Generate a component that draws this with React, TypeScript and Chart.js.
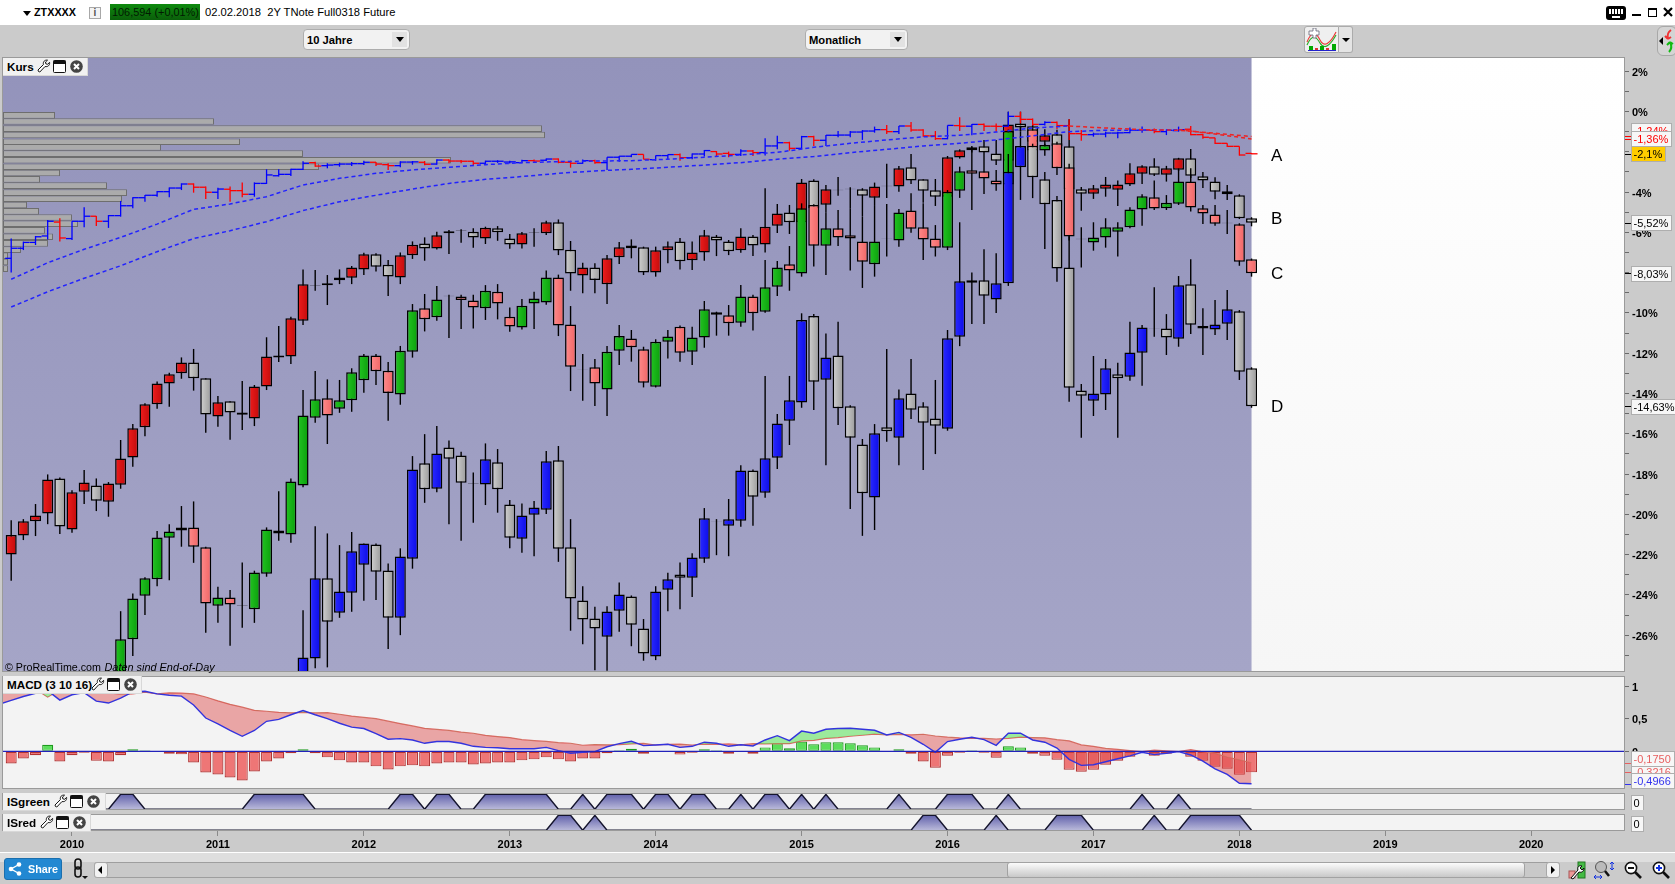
import React, { useEffect, useRef } from 'react';
import Chart from 'chart.js/auto';

// ---------- axis ----------
const monthMin = -0.674;
const monthMax = 132.63;
const yearTickMonths = [5, 17, 29, 41, 53, 65, 77, 89, 101, 113, 125];
const yearLabels = ['2010', '2011', '2012', '2013', '2014', '2015', '2016', '2017', '2018', '2019', '2020'];
const priceTicks = [2, 1, 0, -1, -2, -3, -4, -5, -6, -7, -8, -9, -10, -11, -12, -13, -14, -15, -16, -17, -18, -19, -20, -21, -22, -23, -24, -25, -26, -27];
const macdTicks = [1, 0.5, 0];

// ---------- series A (OHLC bars), first month 0 ----------
const aOpen = [-7.29,-6.79,-6.5,-6.18,-5.49,-6.31,-5.45,-5.2,-5.45,-5.17,-4.68,-4.28,-4.16,-3.98,-3.8,-3.6,-3.76,-4.01,-3.86,-3.93,-4.11,-3.57,-3.19,-3.12,-2.87,-2.54,-2.69,-2.64,-2.61,-2.59,-2.52,-2.64,-2.69,-2.51,-2.52,-2.61,-2.41,-2.46,-2.47,-2.57,-2.47,-2.51,-2.54,-2.44,-2.42,-2.36,-2.52,-2.57,-2.44,
-2.54,-2.27,-2.22,-2.13,-2.39,-2.19,-2.14,-2.29,-2.11,-1.99,-2.08,-2.13,-1.96,-2.04,-1.71,-1.55,-1.83,-1.25,-1.43,-1.18,-1.17,-1.02,-0.97,-0.9,-1,-0.72,-0.92,-1.21,-1.35,-0.7,-0.73,-0.64,-0.73,-0.73,-0.24,-0.39,-0.64,-0.54,-0.7,-1.1,-1.15,-1.12,-1.07,-1.05,-0.93,-0.93,-1,-0.95,-0.88,-1.15,-1.31,-1.58,-1.73,-2.08];
const aClose = [-6.79,-6.5,-6.22,-5.45,-6.28,-5.45,-5.2,-5.45,-5.17,-4.68,-4.28,-4.16,-3.98,-3.8,-3.6,-3.76,-4.01,-3.85,-3.93,-4.11,-3.57,-3.15,-3.12,-2.87,-2.57,-2.71,-2.66,-2.61,-2.59,-2.52,-2.61,-2.69,-2.51,-2.5,-2.62,-2.41,-2.46,-2.47,-2.57,-2.47,-2.47,-2.5,-2.44,-2.46,-2.36,-2.52,-2.57,-2.44,-2.54,
-2.27,-2.22,-2.13,-2.37,-2.19,-2.14,-2.29,-2.11,-1.94,-2.11,-2.13,-1.96,-2.04,-1.71,-1.55,-1.83,-1.25,-1.43,-1.18,-1.17,-1.02,-0.97,-0.9,-1,-0.72,-0.92,-1.21,-1.35,-0.69,-0.73,-0.64,-0.73,-0.74,-0.24,-0.39,-0.64,-0.54,-0.7,-1.1,-1.15,-1.12,-1.07,-1.06,-0.93,-0.92,-1,-0.93,-0.9,-1.15,-1.28,-1.58,-1.73,-2.16,-2.1];
const aHigh = [-6.3,-6.46,-6.18,-5.39,-5.3,-5.45,-4.76,-5.19,-5.14,-4.44,-4.26,-4.15,-3.95,-3.77,-3.57,-3.57,-3.73,-3.78,-3.73,-3.52,-3.52,-2.87,-2.87,-2.84,-2.47,-2.49,-2.57,-2.54,-2.51,-2.44,-2.51,-2.57,-2.47,-2.46,-2.46,-2.37,-2.37,-2.41,-2.44,-2.44,-2.42,-2.44,-2.4,-2.38,-2.33,-2.33,-2.44,-2.38,-2.4,
-2.27,-2.21,-2.13,-2.13,-2.19,-2.13,-2.08,-2.08,-1.91,-1.96,-1.99,-1.88,-1.91,-1.33,-1.21,-1.5,-1.21,-1.21,-1.17,-0.97,-0.97,-0.92,-0.75,-0.67,-0.72,-0.52,-0.88,-0.97,-0.69,-0.29,-0.62,-0.59,-0.59,-0.01,-0.01,-0.35,-0.49,-0.5,-0.39,-0.92,-1.05,-1,-1,-0.8,-0.75,-0.85,-0.9,-0.75,-0.72,-1.12,-1.3,-1.58,-1.73,-2.06];
const aLow = [-8,-6.88,-6.63,-6.35,-6.46,-6.38,-5.75,-5.69,-5.78,-5.22,-4.81,-4.48,-4.23,-4.26,-3.9,-4.03,-4.34,-4.34,-4.48,-4.26,-4.23,-3.6,-3.23,-3.2,-2.9,-2.74,-2.82,-2.74,-2.71,-2.66,-2.71,-2.9,-2.77,-2.64,-2.67,-2.64,-2.57,-2.57,-2.67,-2.6,-2.55,-2.58,-2.56,-2.5,-2.46,-2.57,-2.79,-2.6,-2.6,
-2.9,-2.49,-2.27,-2.37,-2.44,-2.37,-2.44,-2.37,-2.24,-2.24,-2.27,-2.21,-2.21,-2.19,-1.88,-1.94,-1.88,-1.71,-1.71,-1.28,-1.28,-1.41,-1.05,-1.12,-1.12,-1,-1.25,-1.41,-1.38,-0.97,-1.18,-0.97,-1,-0.75,-0.59,-0.7,-0.7,-0.87,-1.41,-1.45,-1.25,-1.28,-1.33,-1.08,-1.05,-1.08,-1.17,-1,-1.18,-1.35,-1.61,-1.76,-2.19,-2.12];

// ---------- moving averages of A, read every third month ----------
const maMonths = [0,3,6,9,12,15,18,21,24,27,30,33,36,39,42,45,48,51,54,57,60,63,66,69,72,75,78,81,84,87,90,93,96,99,102];
const maFast = [-8.33,-7.51,-6.84,-6.25,-5.59,-4.86,-4.59,-4.23,-3.65,-3.32,-3.07,-2.9,-2.77,-2.64,-2.54,-2.49,-2.46,-2.44,-2.37,-2.27,-2.16,-2.03,-1.78,-1.58,-1.41,-1.26,-1.18,-1.02,-0.82,-0.72,-0.82,-0.9,-0.93,-1.08,-1.24];
const maSlow = [-9.71,-8.95,-8.28,-7.66,-6.96,-6.31,-5.92,-5.47,-4.92,-4.48,-4.16,-3.85,-3.57,-3.37,-3.23,-3.07,-2.95,-2.87,-2.77,-2.66,-2.54,-2.37,-2.24,-2.04,-1.88,-1.71,-1.58,-1.41,-1.21,-1,-0.93,-0.93,-0.9,-1.12,-1.36];

// ---------- volume profile ----------
const profileLevels = [-0.19,-0.5,-0.85,-1.17,-1.5,-1.78,-2.09,-2.42,-2.74,-3.05,-3.37,-3.68,-4.03,-4.33,-4.64,-4.96,-5.26,-5.57,-5.9,-6.22,-6.55,-6.86,-7.16,-7.47,-7.8];
const profileVolumes = [52,211,539,542,237,158,300,448,316,57,37,104,124,119,24,36,69,75,42,50,45,18,5,5,5];

// ---------- series B, first month 0 ----------
const bOpen = [-22,-21.05,-20.35,-19.96,-18.22,-20.75,-18.88,-18.57,-19.38,-18.53,
-17.18,-15.68,-14.54,-13.5,-13,-12.46,-13.25,-15.14,-14.39,-14.94,
-15.24,-13.65,-12.21,-12.16,-10.39,-8.66,-8.63,-8.38,-8.25,-7.84,
-7.09,-7.61,-8.24,-7.14,-6.55,-6.8,-6.05,-5.93,-5.97,-6.3,
-5.8,-6.3,-6.6,-6.03,-6.05,-5.5,-6.86,-8.14,-7.74,-8.58,
-7.24,-6.79,-6.74,-7.99,-6.89,-6.45,-7.39,-7,-6.21,-6.45,
-6.89,-6.21,-6.6,-5.67,-5.01,-5.5,-3.42,-4.63,-3.91,-3.86,
-3.86,-4.28,-3.71,-3.73,-2.77,-3.37,-3.91,-4.23,-2.29,-1.93,
-1.73,-2.08,-2.44,-0.59,-0.73,-1.5,-1.13,-1.73,-3.86,-4.08,
-3.83,-3.88,-3.63,-3.09,-2.72,-3.14,-2.89,-2.32,-3.22,-3.47,
-3.96,-4.16,-5.3];
const bClose = [-21.03,-20.35,-20.06,-18.27,-20.6,-18.91,-18.42,-19.33,-18.47,-17.23,
-15.73,-14.54,-13.5,-13.05,-12.46,-13.25,-15.04,-14.44,-14.94,-15.06,
-13.65,-12.16,-12.11,-10.27,-8.58,-8.64,-8.53,-8.24,-7.74,-7.09,
-7.71,-8.19,-7.14,-6.61,-6.8,-6.15,-5.95,-5.91,-6.25,-5.77,
-6,-6.6,-6.05,-6.01,-5.5,-6.9,-8.04,-7.74,-8.37,-7.29,
-6.74,-6.65,-7.99,-6.89,-6.69,-7.44,-7,-6.15,-6.4,-6.94,
-6.21,-6.65,-5.72,-5.06,-5.5,-3.52,-4.81,-3.86,-3.89,-3.84,
-4.18,-3.72,-3.69,-2.82,-3.43,-3.93,-4.23,-2.27,-1.93,-1.78,
-2.03,-2.44,-0.64,-0.8,-1.5,-1.18,-1.73,-3.86,-4.08,-3.81,
-3.62,-3.62,-3.07,-2.72,-3.14,-2.82,-2.32,-3.19,-3.42,-3.98,
-4.11,-5.3,-5.52];
const bHigh = [-20.29,-20.24,-19.49,-18.02,-18.17,-18.8,-17.8,-18.22,-18.4,-16.31,
-15.52,-14.49,-13.4,-12.97,-12.21,-11.79,-13.25,-14.13,-14.39,-13.38,
-13.58,-11.21,-10.65,-10.19,-7.84,-7.87,-8.12,-7.84,-7.67,-7.01,
-7.04,-7.37,-7,-6.45,-6.25,-5.97,-5.89,-5.85,-5.8,-5.72,
-5.69,-6.08,-5.98,-5.8,-5.42,-5.36,-6.43,-7.51,-7.54,-7.13,
-6.48,-6.35,-6.71,-6.71,-6.46,-6.28,-6.46,-5.88,-6.13,-6.38,
-5.8,-6.13,-3.81,-4.59,-4.64,-3.35,-3.37,-3.65,-3.25,-3.76,
-3.81,-3.53,-2.6,-2.7,-2.11,-3.37,-3.35,-2.21,-1.88,-1.71,
-1.41,-1.41,-0.01,-0.01,-0.65,-0.88,-0.9,-0.39,-3.75,-3.65,
-3.25,-3.43,-2.57,-2.67,-2.32,-2.7,-2.3,-1.86,-3,-3.27,
-3.65,-4.11,-5.25];
const bLow = [-23.3,-21.28,-21.08,-20.49,-20.98,-20.92,-19.49,-19.84,-20.12,-18.73,
-17.64,-16.12,-14.76,-14.66,-13.27,-13.86,-15.95,-15.65,-16.3,-15.82,
-15.62,-13.83,-12.44,-12.54,-10.6,-8.9,-9.61,-8.57,-8.57,-8.12,
-7.95,-9.16,-8.57,-7.32,-7.41,-6.85,-7.08,-6.52,-6.76,-6.58,
-6.42,-6.81,-6.8,-6.71,-6.13,-7.13,-8.9,-9.03,-9.03,-9.56,
-7.57,-7.29,-8.12,-8.2,-7.54,-7.84,-7.87,-7.41,-7.18,-7.13,
-7.01,-7.18,-7,-6.03,-6.08,-5.5,-4.85,-5,-4.18,-4.81,
-5.19,-4.69,-4.29,-3.98,-3.6,-4.53,-4.69,-4.3,-2.34,-2.04,
-2.9,-2.66,-2.5,-0.95,-1.6,-1.66,-1.8,-4,-4.93,-4.34,
-4.23,-4.69,-3.7,-3.6,-3.2,-3.48,-2.95,-3.3,-3.8,-4.36,
-4.39,-5.34,-5.7];

// ---------- series C, first month 9 ----------
const cOpen = [-28.07,
-26.21,-24.05,-23.23,-21.16,-20.8,-20.65,-21.64,-24.54,-24.13,-24.55,
-24.72,-22.95,-20.8,-21,-18.57,-15.2,-14.24,-14.76,-14.34,-13.35,
-12.11,-12.87,-14.05,-11.93,-9.77,-10.22,-9.17,-9.18,-9.39,-9.77,
-8.95,-10.19,-10.72,-9.53,-9.48,-8.24,-10.57,-12.8,-12.7,-13.8,
-11.88,-11.27,-11.81,-13.67,-11.43,-10.69,-11.93,-11.22,-9.97,-10.12,
-10.49,-9.18,-9.94,-8.7,-7.59,-8.04,-4.64,-6.66,-5.8,-6.15,
-6.45,-7.59,-6.32,-6.41,-4.91,-5.75,-6.3,-6.76,-3.93,-2.92,
-2.97,-3.42,-3.63,-0.94,-0.88,-1.94,-1.58,-2.77,-6.34,-6.51,
-6.26,-5.97,-5.75,-4.86,-4.26,-4.81,-4.58,-3.47,-4.81,-5.11,
-5.55,-5.6,-7.34];
const cClose = [-26.21,
-24.18,-23.18,-21.15,-20.85,-20.65,-21.61,-24.43,-24.13,-24.48,-24.53,
-22.89,-20.75,-20.95,-18.37,-15.09,-14.29,-15.1,-14.34,-12.95,-12.12,
-12.9,-13.98,-11.88,-9.87,-10.32,-9.33,-9.15,-9.36,-9.73,-8.9,
-9.53,-10.68,-9.64,-9.28,-8.24,-10.62,-12.67,-12.78,-13.5,-11.93,
-11.15,-11.71,-13.47,-11.43,-11.17,-11.98,-11.22,-9.82,-10.09,-10.52,
-9.18,-10.02,-8.73,-7.74,-7.9,-4.81,-6.66,-5.8,-6.26,-6.31,
-7.46,-6.45,-6.3,-5.01,-5.82,-6.36,-6.76,-3.98,-2.97,-3.09,
-3.33,-3.63,-0.97,-0.92,-1.94,-1.66,-2.82,-6.21,-6.32,-6.25,
-5.75,-5.75,-4.86,-4.21,-4.82,-4.53,-3.47,-4.77,-5.06,-5.57,
-5.53,-7.46,-8.03];
const cHigh = [-24.81,
-23.93,-23.13,-20.83,-20.49,-19.59,-19.36,-21.61,-23.6,-23.76,-22.39,
-22.8,-20.65,-18.85,-18.22,-13.83,-12.89,-13.3,-13.33,-12.75,-12.04,
-12.04,-12.44,-11.64,-9.56,-9.06,-8.67,-9.1,-9.1,-9.1,-8.62,
-8.57,-9.73,-9.31,-8.95,-7.9,-8.1,-9.66,-12.04,-12.29,-11.64,
-10.6,-10.85,-11.68,-11.31,-10.85,-10.62,-10.69,-9.41,-9.94,-9.61,
-8.62,-9.1,-7.37,-7.42,-6.68,-4.56,-4.6,-5,-4.89,-4.81,
-5.2,-4.69,-4.59,-4.84,-4.06,-4.55,-5.64,-3.9,-2.74,-1.78,
-2.9,-2.9,-0.9,-0.7,-0.8,-1.6,-1.5,-2.6,-5.75,-5.5,
-5.3,-5.5,-4.75,-4.11,-3.43,-4.15,-2.9,-2.82,-4.64,-4.64,
-4.89,-5.55,-7.3];
const cLow = [-28.5,
-27.04,-25,-23.57,-23.27,-21.61,-22.41,-25.88,-25.39,-26.53,-25.63,
-25.39,-23.1,-21.31,-21.41,-18.66,-15.45,-16.51,-14.96,-14.91,-13.96,
-13.58,-15.35,-14.56,-12.22,-10.92,-10.39,-11.25,-10.8,-10.77,-10.35,
-10.32,-10.93,-10.82,-10.8,-9.6,-11.15,-13.88,-14.36,-14.62,-15.12,
-12.59,-12.42,-13.7,-13.7,-12.26,-12.42,-12.59,-11.73,-11.13,-11.13,
-10.69,-10.88,-9.99,-9.16,-8.9,-8.2,-7.7,-8.12,-6.68,-7.9,
-8.76,-8.2,-7.2,-6.71,-6.02,-7.37,-7.2,-6.88,-4.29,-4.89,
-4.1,-3.93,-3.7,-1,-2,-2.2,-3.15,-6.4,-7.75,-6.91,
-6.76,-7.2,-5.8,-5.67,-4.89,-4.89,-4.64,-4.97,-5.59,-5.67,
-6.08,-7.66,-8.2];

// ---------- series D, first month 24 ----------
const dOpen = [-28.07,-27.16,-23.18,-24.89,-23.9,-22.51,
-21.5,-22.79,-25.14,-22.21,-17.47,-18.73,-16.68,-17.08,-18.48,-18.52,
-17.42,-19.51,-21.21,-20.02,-19.77,-17.32,-21.64,-24.28,-25.17,-26.08,
-24.79,-24.08,-25.67,-27.06,-23.75,-22.99,-23.15,-22.21,-20.35,-20.57,
-20.32,-17.82,-18.93,-17.19,-15.35,-14.45,-10.15,-13.32,-12.11,-14.64,
-16.53,-19.16,-15.68,-16.2,-14,-14.64,-15.24,-15.75,-11.18,-8.38,
-8.38,-9.34,-8.53,-2.77,-1.7,-3.37,-4.39,-7.74,-13.85,-14.36,
-14.05,-13.05,-13.17,-11.98,-10.79,-10.77,-11.28,-8.58,-10.65,-10.83,
-10.54,-9.92,-12.75];
const dClose = [-27.11,-23.18,-25.34,-23.83,-21.84,-21.45,
-22.85,-25.14,-22.09,-17.77,-18.76,-16.98,-17.24,-18.43,-18.46,-17.27,
-18.76,-21.16,-20.06,-19.66,-17.37,-21.71,-24.18,-25.22,-25.67,-24.82,
-23.98,-25.49,-26.91,-23.83,-23.23,-23.15,-22.14,-20.2,-20.33,-20.25,
-17.82,-19.13,-17.22,-15.49,-14.34,-10.35,-13.42,-12.21,-14.74,-16.2,
-18.96,-15.98,-15.88,-14.24,-14.81,-15.45,-15.6,-11.26,-8.43,-8.5,
-9.15,-8.53,-2.99,-1.71,-3.27,-4.61,-7.79,-13.72,-14.11,-14,
-12.75,-13.25,-11.96,-10.72,-10.77,-11.22,-8.63,-10.59,-10.78,-10.57,
-9.82,-12.92,-14.63];
const dHigh = [-24.76,-20.59,-20.95,-21.53,-20.88,-21.45,
-21.45,-22.44,-21.69,-17.11,-16.02,-15.62,-16.33,-16.89,-17.92,-16.48,
-16.76,-19.29,-19.46,-19.34,-16.86,-16.61,-20.24,-23.57,-24.59,-24.56,
-23.38,-24.03,-25.2,-23.57,-22.9,-22.39,-21.94,-19.69,-20.24,-19.24,
-17.56,-17.77,-13.13,-15.02,-13.13,-10.02,-10.05,-11.02,-10.44,-14.58,
-16.26,-15.52,-11.79,-13.8,-12.29,-14.44,-13.33,-10.85,-5.5,-7.99,
-6.84,-7.04,-2.11,-1,-1.6,-3,-4.2,-6.2,-13.53,-12.14,
-12.29,-12.47,-10.44,-10.6,-8.73,-10.06,-8.17,-7.34,-9.77,-9.36,
-8.86,-9.86,-12.7];
const dLow = [-28.3,-27.65,-27.6,-25.14,-24.84,-24.29,
-24.26,-26.69,-26,-22.7,-19.43,-18.9,-20.49,-21.31,-20.42,-19.54,
-19.92,-21.69,-21.91,-22.08,-19.99,-22.36,-25.78,-26.45,-27.74,-27.77,
-25.83,-26.55,-27.27,-27.24,-24.81,-24.72,-24.1,-22.41,-22.03,-22.08,
-20.62,-20.57,-19.18,-17.75,-16.56,-14.71,-14.82,-17.56,-15.57,-19.74,
-21.07,-20.78,-16.4,-17.56,-15.27,-17.8,-17.01,-15.85,-11.65,-10.55,
-10.55,-10,-8.66,-4.39,-4.3,-6.83,-8.45,-14.41,-16.2,-15.12,
-14.82,-16.2,-13.37,-13.62,-11.18,-12.09,-11.68,-11.05,-12.09,-11.1,
-11.35,-13.33,-14.71];

// ---------- MACD (3 10 16) ----------
const macdHist = [-0.185,-0.108,-0.06,0.1,-0.154,-0.06,-0.02,-0.144,-0.154,-0.06,
0.03,0.015,0,-0.036,-0.046,-0.17,-0.323,-0.354,-0.4,-0.446,
-0.308,-0.154,-0.108,-0.03,0.03,-0.03,-0.092,-0.138,-0.17,-0.17,
-0.23,-0.277,-0.23,-0.215,-0.23,-0.185,-0.17,-0.17,-0.2,-0.185,
-0.17,-0.17,-0.138,-0.123,-0.092,-0.123,-0.154,-0.108,-0.108,-0.03,
0.015,0.04,-0.036,0,0,-0.05,-0.02,0.03,0.015,-0.036,
0,-0.036,0.06,0.123,0.046,0.15,0.108,0.14,0.14,0.123,
0.092,0.06,0,0.03,-0.036,-0.154,-0.25,-0.067,-0.02,0.015,
-0.02,-0.097,0.077,0.06,-0.036,-0.067,-0.128,-0.282,-0.313,-0.282,
-0.205,-0.144,-0.082,-0.01,-0.067,-0.036,0,-0.082,-0.144,-0.236,
-0.267,-0.36,-0.3216];
// line values start one month before the histogram
const macdLine = [0.72,0.78,0.84,0.89,0.93,0.785,0.867,0.9,0.77,0.74,0.815,
0.91,0.92,0.88,0.86,0.846,0.71,0.51,0.42,0.32,0.23,
0.32,0.46,0.49,0.56,0.625,0.56,0.5,0.43,0.37,0.35,
0.27,0.185,0.195,0.174,0.123,0.15,0.15,0.123,0.077,0.06,
0.056,0.04,0.04,0.04,0.06,0.01,-0.03,-0.015,-0.005,0.07,
0.118,0.154,0.087,0.097,0.108,0.06,0.077,0.14,0.123,0.077,
0.1,0.082,0.174,0.24,0.164,0.31,0.277,0.338,0.35,0.354,
0.338,0.323,0.25,0.29,0.215,0.108,-0.015,0.15,0.185,0.215,
0.18,0.092,0.277,0.277,0.174,0.14,0.05,-0.123,-0.215,-0.205,
-0.16,-0.113,-0.07,-0.015,-0.05,-0.03,-0.005,-0.056,-0.15,-0.267,
-0.354,-0.49,-0.4966];
const macdSignal = [0.99,0.965,0.948,0.95,0.83,0.94,0.927,0.92,0.914,0.894,0.875,
0.88,0.905,0.88,0.896,0.892,0.88,0.833,0.774,0.72,0.676,
0.628,0.614,0.598,0.59,0.595,0.59,0.592,0.568,0.54,0.52,
0.5,0.462,0.425,0.389,0.353,0.335,0.32,0.293,0.277,0.245,
0.226,0.21,0.178,0.163,0.152,0.133,0.124,0.093,0.103,0.1,
0.103,0.114,0.123,0.097,0.108,0.11,0.097,0.11,0.108,0.113,
0.1,0.118,0.114,0.117,0.118,0.16,0.169,0.198,0.21,0.231,
0.246,0.263,0.25,0.26,0.251,0.262,0.235,0.217,0.205,0.2,
0.2,0.189,0.2,0.217,0.21,0.207,0.178,0.159,0.098,0.077,
0.045,0.031,0.012,-0.005,0.017,0.006,-0.005,0.026,-0.006,-0.031,
-0.087,-0.13,-0.175];

// ---------- ISgreen / ISred, month 0 to 102 ----------
const isGreen = [0,0,0,0,0,0,0,0,0,1,1,0,0,0,0,0,0,0,0,0,1,1,1,1,1,0,0,0,0,0,0,0,1,1,0,1,1,0,0,1,1,1,1,1,1,0,0,1,0,1,1,1,0,1,1,0,1,1,0,0,1,0,1,1,0,1,0,1,0,0,0,0,0,1,0,0,0,1,1,1,0,0,1,0,0,0,0,0,0,0,0,0,0,1,0,0,1,0,0,0,0,0,0];
const isRed = [0,0,0,0,0,0,0,0,0,0,0,0,0,0,0,0,0,0,0,0,0,0,0,0,0,0,0,0,0,0,0,0,0,0,0,0,0,0,0,0,0,0,0,0,0,1,1,0,1,0,0,0,0,0,0,0,0,0,0,0,0,0,0,0,0,0,0,0,0,0,0,0,0,0,0,1,1,0,0,0,0,1,0,0,0,0,1,1,1,0,0,0,0,0,1,0,0,1,1,1,1,1,0];

// ---------- tags ----------
const priceTagValues = [-1.24, -1.36, -2.1, -5.52, -8.03, -14.63];
const priceTagTexts = ['-1,24%', '-1,36%', '-2,1%', '-5,52%', '-8,03%', '-14,63%'];
const macdTagValues = [-0.3216, -0.175, -0.4966];
const macdTagTexts = ['-0,3216', '-0,1750', '-0,4966'];
const endLetters = ['A', 'B', 'C', 'D'];
const endLetterLevels = [-2.13, -5.27, -8.03, -14.63];

const SANS = '"Liberation Sans",Arial,sans-serif';

type Pal = { up: [string, string]; down: [string, string] };
const palB: Pal = { up: ['#EE1C1C', '#C20C0C'], down: ['#CFCFCF', '#9C9C9C'] };
const palC: Pal = { up: ['#22C222', '#0CA00C'], down: ['#FF8A8A', '#F06666'] };
const palD: Pal = { up: ['#2A2AFF', '#0C0CE8'], down: ['#CFCFCF', '#9C9C9C'] };

function hGrad(ctx: any, c: [string, string]) {
  const chart = ctx.chart;
  const xc = chart.scales.x.getPixelForValue(ctx.raw ? ctx.raw.x : 0);
  if (!Number.isFinite(xc)) return c[0];
  const g = chart.ctx.createLinearGradient(xc - 5, 0, xc + 5, 0);
  g.addColorStop(0, c[0]);
  g.addColorStop(1, c[1]);
  return g;
}

function candles(first: number, o: number[], h: number[], l: number[], c: number[], pal: Pal, order: number) {
  const wick = {
    type: 'bar', grouped: false, order: order + 1, barThickness: 1.4, backgroundColor: '#000', borderWidth: 0, inflateAmount: 0,
    data: o.map((_, i) => ({ x: first + i, y: [l[i], h[i]] })),
  };
  const body = {
    type: 'bar', grouped: false, order, barThickness: 11, borderWidth: 1.5, borderColor: '#000', borderSkipped: false, inflateAmount: 0,
    backgroundColor: (ctx: any) => {
      if (!ctx.raw) return '#888';
      const i = ctx.dataIndex;
      return hGrad(ctx, c[i] >= o[i] ? pal.up : pal.down);
    },
    data: o.map((_, i) => ({ x: first + i, y: [o[i], c[i]] })),
  };
  return [wick, body];
}

function ohlcBars(o: number[], h: number[], l: number[], c: number[]) {
  const col = (i: number) => (c[i] >= o[i] ? '#0000FF' : '#FF0000');
  const tick = (vals: number[], rotation: number, order: number) => ({
    type: 'line', showLine: false, order, pointStyle: 'dash', pointRadius: 6, pointRotation: rotation, pointBorderWidth: 1.3,
    pointBorderColor: (ctx: any) => col(ctx.dataIndex),
    data: vals.map((v, i) => ({ x: i, y: v })),
  });
  return [
    {
      type: 'bar', grouped: false, order: 12, barThickness: 1.3, borderWidth: 0, inflateAmount: 0,
      backgroundColor: (ctx: any) => col(ctx.dataIndex || 0),
      data: o.map((_, i) => ({ x: i, y: [l[i], h[i]] })),
    },
    tick(o, 180, 11),
    tick(c, 0, 10),
  ];
}

function maLine(vals: number[], order: number) {
  return {
    type: 'line', order, borderWidth: 1.5, borderDash: [4, 3], pointRadius: 0, borderColor: '#2222FF', fill: false,
    segment: { borderColor: (s: any) => (s.p1.parsed.y >= s.p0.parsed.y ? '#2222FF' : '#EE2222') },
    data: vals.map((v, k) => ({ x: maMonths[k], y: v })),
  };
}

// the layout reserves half a tick label at each axis end unless told not to
const noPad = (s: any) => { s.paddingTop = 0; s.paddingBottom = 0; s.paddingLeft = 0; s.paddingRight = 0; };

function xAxis(show: boolean) {
  return {
    type: 'linear', min: monthMin, max: monthMax, offset: false, display: show, position: 'bottom',
    grid: { offset: false, drawOnChartArea: false, tickLength: 5, color: '#8A8A8A' },
    border: { display: false },
    afterBuildTicks: (a: any) => { a.ticks = yearTickMonths.map((v) => ({ value: v })); },
    afterFit: (s: any) => { noPad(s); s.height = show ? 21 : 0; },
    ticks: {
      autoSkip: false, maxRotation: 0, padding: 2, color: '#000', font: { family: SANS, size: 11, weight: 'bold' },
      callback: (v: number) => yearLabels[yearTickMonths.indexOf(v)],
    },
  };
}

function yAxis(min: number, max: number, ticks: number[], fmt: (v: number) => string) {
  return {
    type: 'linear', min, max, offset: false, position: 'right', beginAtZero: false,
    grid: { offset: false, drawOnChartArea: false, tickLength: 5, color: '#6A6A6A' },
    border: { display: false },
    afterBuildTicks: (a: any) => { a.ticks = ticks.map((v) => ({ value: v })); },
    afterFit: (s: any) => { noPad(s); s.width = 51; },
    ticks: { autoSkip: false, padding: 3, labelOffset: 1.5, color: '#000', font: { family: SANS, size: 11, weight: 'bold' }, callback: (v: number) => fmt(v) },
  };
}

type Tag = { value: number; text: string; color: string; tick?: string; shift?: number; fill?: string };

function frame(opts: { shade?: boolean; bg?: string; tags?: Tag[]; letters?: boolean }) {
  return {
    id: 'frame',
    beforeDraw(chart: any) {
      const { ctx, chartArea: a } = chart;
      ctx.save();
      if (opts.shade) {
        const split = chart.scales.x.getPixelForValue(102);
        const p = ctx.createLinearGradient(0, a.top, 0, a.bottom);
        p.addColorStop(0, '#9393BB');
        p.addColorStop(1, '#A5A5C7');
        const w = ctx.createLinearGradient(0, a.top, 0, a.bottom);
        w.addColorStop(0, '#FFFFFF');
        w.addColorStop(1, '#F6F6F6');
        ctx.fillStyle = w;
        ctx.fillRect(a.left, a.top, a.right - a.left, a.bottom - a.top);
        ctx.fillStyle = p;
        ctx.fillRect(a.left, a.top, split - a.left, a.bottom - a.top);
      } else {
        ctx.fillStyle = opts.bg || '#F3F3F3';
        ctx.fillRect(a.left, a.top, a.right - a.left, a.bottom - a.top);
      }
      ctx.restore();
    },
    afterDraw(chart: any) {
      const { ctx, chartArea: a, scales } = chart;
      ctx.save();
      ctx.strokeStyle = '#9A9A9A';
      ctx.lineWidth = 1;
      ctx.strokeRect(a.left - 0.5, a.top + 0.5, a.right - a.left + 1, a.bottom - a.top - 1);
      if (opts.letters) {
        ctx.fillStyle = '#000';
        ctx.font = `17px ${SANS}`;
        ctx.textBaseline = 'middle';
        ctx.textAlign = 'left';
        endLetters.forEach((t, k) => ctx.fillText(t, 1271, scales.y.getPixelForValue(endLetterLevels[k]) + 1.5));
      }
      (opts.tags || []).forEach((t) => {
        const y = scales.y.getPixelForValue(t.value);
        ctx.strokeStyle = t.tick || t.color;
        ctx.lineWidth = 1;
        ctx.beginPath();
        ctx.moveTo(a.right + 1, Math.round(y) + 0.5);
        ctx.lineTo(a.right + 7, Math.round(y) + 0.5);
        ctx.stroke();
        ctx.font = `11px ${SANS}`;
        const w = Math.ceil(ctx.measureText(t.text).width) + 5;
        const by = Math.round(y - 7.5 + (t.shift || 0));
        ctx.fillStyle = t.fill || '#F7F7F7';
        ctx.fillRect(a.right + 7.5, by + 0.5, w, 15);
        ctx.strokeStyle = '#AEAEAE';
        ctx.strokeRect(a.right + 7.5, by + 0.5, w, 15);
        ctx.fillStyle = t.color;
        ctx.textAlign = 'left';
        ctx.textBaseline = 'middle';
        ctx.fillText(t.text, a.right + 9.5, by + 8.5);
      });
      ctx.restore();
    },
  };
}

const baseOptions = () => ({
  responsive: false,
  animation: false as const,
  devicePixelRatio: 1,
  events: [] as string[],
  layout: { autoPadding: false, padding: { left: 3, right: 0, top: 0, bottom: 0 } },
  plugins: { legend: { display: false }, tooltip: { enabled: false } },
});

function priceConfig() {
  const tags: Tag[] = priceTagValues.map((v, k) => ({
    value: v,
    text: priceTagTexts[k],
    color: k < 2 ? '#FF0000' : '#000',
    shift: k === 0 ? -5.5 : 0,
    fill: k === 2 ? '#FFCC00' : undefined,
  }));
  return {
    type: 'bar',
    data: {
      datasets: [
        maLine(maFast, 5),
        maLine(maSlow, 6),
        ...ohlcBars(aOpen, aHigh, aLow, aClose),
        ...candles(24, dOpen, dHigh, dLow, dClose, palD, 20),
        ...candles(9, cOpen, cHigh, cLow, cClose, palC, 30),
        ...candles(0, bOpen, bHigh, bLow, bClose, palB, 40),
        {
          type: 'bar', indexAxis: 'y', xAxisID: 'xVol', yAxisID: 'y', grouped: false, order: 100, barThickness: 6.6,
          backgroundColor: '#ABABAB', borderColor: '#6E6E6E', borderWidth: 1, borderSkipped: false, inflateAmount: 0,
          data: profileVolumes.map((v, k) => ({ x: v, y: profileLevels[k] })),
        },
      ],
    },
    options: {
      ...baseOptions(),
      scales: {
        x: xAxis(false),
        xVol: { type: 'linear', min: 0, max: 1621, display: false, offset: false, grid: { offset: false } },
        y: yAxis(-27.83, 2.706, priceTicks, (v) => (Math.abs(v % 2) === 0 ? `${v}%` : '')),
      },
    },
    plugins: [frame({ shade: true, tags, letters: true })],
  };
}

function macdConfig() {
  const months = macdLine.map((_, k) => k - 1);
  return {
    type: 'bar',
    data: {
      datasets: [
        {
          type: 'line', order: 2, borderColor: '#3333DD', borderWidth: 1.4, pointRadius: 0,
          fill: { target: 1, above: 'rgba(70,225,70,0.5)', below: 'rgba(222,70,70,0.45)' },
          data: macdLine.map((v, k) => ({ x: months[k], y: v })),
        },
        {
          type: 'line', order: 3, borderColor: '#E26A6A', borderWidth: 1.2, pointRadius: 0, fill: false,
          data: macdSignal.map((v, k) => ({ x: months[k], y: v })),
        },
        {
          type: 'line', order: 1, borderColor: '#2222BB', borderWidth: 1.2, pointRadius: 0, fill: false,
          data: [{ x: monthMin, y: 0 }, { x: monthMax, y: 0 }],
        },
        {
          type: 'bar', grouped: false, order: 5, barThickness: 11, borderWidth: 1.2, borderSkipped: false, inflateAmount: 0,
          backgroundColor: (ctx: any) => (ctx.raw && ctx.raw.y >= 0 ? '#5BDE5B' : '#EE7676'),
          borderColor: (ctx: any) => (ctx.raw && ctx.raw.y >= 0 ? '#1D9A1D' : '#B23434'),
          data: macdHist.map((v, i) => ({ x: i, y: v })),
        },
      ],
    },
    options: {
      ...baseOptions(),
      scales: {
        x: xAxis(false),
        y: yAxis(-0.577, 1.154, macdTicks, (v) => String(v).replace('.', ',')),
      },
    },
    plugins: [frame({
      tags: macdTagValues.map((v, k) => ({
        value: v, text: macdTagTexts[k], color: k === 2 ? '#3333EE' : '#E86060', shift: [-0.5, -4, -3][k],
      })),
    })],
  };
}

function flagConfig(vals: number[], withAxis: boolean) {
  return {
    type: 'line',
    data: {
      datasets: [{
        borderColor: '#15152E', borderWidth: 1.4, pointRadius: 0, fill: 'origin',
        backgroundColor: (ctx: any) => {
          const a = ctx.chart.chartArea;
          if (!a || !Number.isFinite(a.top) || !Number.isFinite(a.bottom)) return '#8888BB';
          const g = ctx.chart.ctx.createLinearGradient(0, a.top, 0, a.bottom);
          g.addColorStop(0, '#5A5AA8');
          g.addColorStop(1, '#BEBEDC');
          return g;
        },
        data: vals.map((v, i) => ({ x: i, y: v })),
      }],
    },
    options: {
      ...baseOptions(),
      scales: {
        x: xAxis(withAxis),
        y: { ...yAxis(-0.047, 1.087, [0], () => ''), grid: { drawOnChartArea: false, drawTicks: false } },
      },
    },
    plugins: [frame({ tags: [{ value: 0.47, text: '0', color: '#000', tick: '#F3F3F300' }] })],
  };
}

function Panel({ top, height, make }: { top: number; height: number; make: () => any }) {
  const ref = useRef<HTMLCanvasElement>(null);
  useEffect(() => {
    const chart = new Chart(ref.current as any, make());
    return () => chart.destroy();
  }, []);
  return <canvas ref={ref} width={1675} height={height} style={{ position: 'absolute', left: 0, top, display: 'block' }} />;
}

const abs = (l: number, t: number, w: number, h: number, extra: any = {}) => ({ position: 'absolute', left: l, top: t, width: w, height: h, ...extra }) as any;

function Txt({ l, t, children, size = 11, bold = false, color = '#000', italic = false }: any) {
  return (
    <div style={{ position: 'absolute', left: l, top: t, whiteSpace: 'pre', fontFamily: SANS, fontSize: size, lineHeight: '14px', fontWeight: bold ? 'bold' : 'normal', fontStyle: italic ? 'italic' : 'normal', color }}>
      {children}
    </div>
  );
}

function Wrench({ x, y }: { x: number; y: number }) {
  return (
    <svg style={abs(x, y, 14, 14)} viewBox="0 0 14 14">
      <path d="M1.5 12.5 L2.8 13 L8 7.5 C10.5 8.2 13 6.4 12.6 3.4 L10.6 5.3 L8.8 4.8 L8.5 3 L10.5 1.2 C7.6 0.6 5.8 3 6.4 5.6 L1 11 Z" fill="#fff" stroke="#111" strokeWidth="1" />
    </svg>
  );
}
function Win({ x, y }: { x: number; y: number }) {
  return (
    <svg style={abs(x, y, 13, 13)} viewBox="0 0 13 13">
      <rect x="0.5" y="0.5" width="12" height="12" rx="1" fill="#fff" stroke="#111" />
      <rect x="0.5" y="0.5" width="12" height="3.5" fill="#111" />
    </svg>
  );
}
function Close({ x, y }: { x: number; y: number }) {
  return (
    <svg style={abs(x, y, 13, 13)} viewBox="0 0 13 13">
      <circle cx="6.5" cy="6.5" r="6.3" fill="#444" />
      <path d="M4 4 L9 9 M9 4 L4 9" stroke="#fff" strokeWidth="2" />
    </svg>
  );
}
function Caption({ x, y, w, text, wrenchAt }: any) {
  return (
    <>
      <div style={abs(x, y, w, 17, { background: '#F1F1F1', borderRight: '1px solid #D8D8D8', borderBottom: '1px solid #D8D8D8' })} />
      <Txt l={x + 4} t={y + 1.5} bold size={11.7}>{text}</Txt>
      <Wrench x={wrenchAt} y={y + 1} />
      <Win x={wrenchAt + 16} y={y + 2} />
      <Close x={wrenchAt + 33} y={y + 2} />
    </>
  );
}
function Select({ x, w, text }: any) {
  return (
    <>
      <div style={abs(x, 29, w, 21, { background: '#F2F2F2', border: '1px solid #ADADAD', borderRadius: 4, boxSizing: 'border-box' })} />
      <Txt l={x + 4} t={33} bold size={11.2}>{text}</Txt>
      <div style={abs(x + w - 18, 32, 15, 15, { background: '#E2E2E2' })} />
      <div style={{ position: 'absolute', left: x + w - 14.5, top: 37, width: 0, height: 0, borderLeft: '4px solid transparent', borderRight: '4px solid transparent', borderTop: '5px solid #000' }} />
    </>
  );
}
function Magnifier({ x, sign }: { x: number; sign: string }) {
  return (
    <svg style={abs(x, 861, 18, 18)} viewBox="0 0 18 18">
      <line x1="11" y1="11" x2="17" y2="17" stroke="#111" strokeWidth="2.6" />
      <circle cx="7" cy="7" r="5.6" fill="#fff" stroke="#111" strokeWidth="1.6" />
      <path d={sign === '+' ? 'M4 7 H10 M7 4 V10' : 'M4 7 H10'} stroke={sign === '+' ? '#1030E0' : '#111'} strokeWidth="2" />
    </svg>
  );
}

export default function App() {
  return (
    <div style={{ position: 'fixed', left: 0, top: 0, width: 1675, height: 884, overflow: 'hidden', background: '#CBCBCB' }}>
      {/* header */}
      <div style={abs(0, 0, 1675, 25, { background: '#fff' })} />
      <div style={{ position: 'absolute', left: 23, top: 11, width: 0, height: 0, borderLeft: '4px solid transparent', borderRight: '4px solid transparent', borderTop: '5px solid #000' }} />
      <Txt l={34} t={5} bold size={10.8}>ZTXXXX</Txt>
      <div style={abs(89, 7, 12, 12, { background: '#F4F4F4', border: '1px solid #A8A8A8', boxSizing: 'border-box' })} />
      <Txt l={93.5} t={6} size={10} color="#555" bold>i</Txt>
      <div style={abs(110, 4, 90, 16, { background: 'linear-gradient(#0E8A0E,#0A5E0A)' })} />
      <Txt l={112} t={5} size={10.9} color="#021A02">106,594 (+0,01%)</Txt>
      <Txt l={205} t={5} size={11.2}>02.02.2018  2Y TNote Full0318 Future</Txt>
      <div style={abs(1606, 6, 20, 14, { background: '#000', borderRadius: 3 })} />
      <div style={abs(1609, 9, 14, 5, { background: 'repeating-linear-gradient(90deg,#fff 0 2px,#000 2px 3px)' })} />
      <div style={abs(1612, 16, 8, 2, { background: '#fff' })} />
      <div style={abs(1632, 14, 9, 2, { background: '#000' })} />
      <div style={abs(1648, 8, 9, 9, { border: '1.5px solid #000', borderTopWidth: 2.5, boxSizing: 'border-box' })} />
      <svg style={abs(1663, 7, 10, 10)} viewBox="0 0 10 10"><path d="M1 1 L9 9 M9 1 L1 9" stroke="#000" strokeWidth="2.2" /></svg>

      {/* toolbar */}
      <Select x={303} w={107} text="10 Jahre" />
      <Select x={805} w={103} text="Monatlich" />
      <div style={abs(1304, 26, 35, 27, { background: '#EFEFEF', border: '1px solid #ABABAB', borderRadius: '3px 0 0 3px', boxSizing: 'border-box' })} />
      <svg style={abs(1306, 28, 31, 23)} viewBox="0 0 31 23">
        <path d="M1 14 C6 2 10 4 14 12 C18 20 24 16 30 4" fill="none" stroke="#E33" strokeWidth="1.1" />
        <path d="M1 17 C6 6 10 8 14 15 C18 22 24 18 30 7" fill="none" stroke="#2A2" strokeWidth="1.1" />
        <path d="M3 3 H7 V0 H10 V3 H13 V7 H10 V10 H7 V7 H3 Z" fill="#fff" stroke="#667" strokeWidth="0.8" />
        <rect x="3" y="18" width="4" height="4" fill="#0A0" /><rect x="9" y="20" width="3" height="2" fill="#D33" /><rect x="14" y="18" width="4" height="4" fill="#0A0" /><rect x="20" y="20" width="3" height="2" fill="#D33" /><rect x="26" y="16" width="4" height="6" fill="#0A0" />
        <rect x="2" y="22" width="28" height="1" fill="#22C" />
      </svg>
      <div style={abs(1339, 26, 14, 27, { background: '#E4E4E4', border: '1px solid #ABABAB', borderLeft: 'none', borderRadius: '0 3px 3px 0', boxSizing: 'border-box' })} />
      <div style={{ position: 'absolute', left: 1342, top: 38, width: 0, height: 0, borderLeft: '4px solid transparent', borderRight: '4px solid transparent', borderTop: '4px solid #000' }} />
      <div style={abs(1657, 26, 20, 30, { background: '#D4D4D4', border: '1px solid #A8A8A8', borderRadius: 6, boxSizing: 'border-box' })} />
      <svg style={abs(1659, 29, 16, 24)} viewBox="0 0 16 24">
        <path d="M0 12 L4 8 V16 Z" fill="#000" />
        <path d="M12 1 C9 3 8 6 9 10 M9 10 L6 7 M9 10 L12 8" fill="none" stroke="#E33" strokeWidth="2" />
        <path d="M10 23 C13 20 13 17 11 13 M11 13 L8 16 M11 13 L14 15" fill="none" stroke="#1B1" strokeWidth="2" />
      </svg>

      {/* charts */}
      <Panel top={57} height={615} make={priceConfig} />
      <Panel top={676} height={113} make={macdConfig} />
      <Panel top={793} height={17} make={() => flagConfig(isGreen, false)} />
      <Panel top={814} height={38} make={() => flagConfig(isRed, true)} />

      {/* captions */}
      <Caption x={3} y={58} w={84} text="Kurs" wrenchAt={37} />
      <Caption x={3} y={676} w={138} text="MACD (3 10 16)" wrenchAt={91} />
      <Caption x={3} y={793} w={102} text="ISgreen" wrenchAt={54} />
      <Caption x={3} y={814} w={87} text="ISred" wrenchAt={40} />
      <Txt l={5} t={660} size={10.7}>© ProRealTime.com</Txt>
      <Txt l={104.5} t={660} size={10.9} italic>Daten sind End-of-Day</Txt>

      {/* bottom bar */}
      <div style={abs(0, 852, 1675, 1.5, { background: '#FFFFFF' })} />
      <div style={abs(0, 853, 1675, 9, { background: '#DEDEDE' })} />
      <div style={abs(94, 862, 1466, 16, { background: '#C9C9C9', border: '1px solid #9E9E9E', boxSizing: 'border-box', borderRadius: 3 })} />
      <div style={abs(94, 862, 14, 16, { background: '#F2F2F2', border: '1px solid #A8A8A8', boxSizing: 'border-box', borderRadius: 3 })} />
      <div style={{ position: 'absolute', left: 98, top: 866, width: 0, height: 0, borderTop: '4px solid transparent', borderBottom: '4px solid transparent', borderRight: '4px solid #000' }} />
      <div style={abs(1007, 862, 518, 16, { background: 'linear-gradient(#FBFBFB,#C8C8C8)', border: '1px solid #A2A2A2', boxSizing: 'border-box', borderRadius: 3 })} />
      <div style={abs(1546, 862, 14, 16, { background: '#F2F2F2', border: '1px solid #A8A8A8', boxSizing: 'border-box', borderRadius: 3 })} />
      <div style={{ position: 'absolute', left: 1551, top: 866, width: 0, height: 0, borderTop: '4px solid transparent', borderBottom: '4px solid transparent', borderLeft: '4px solid #000' }} />
      <div style={abs(4, 858, 58, 22, { background: '#2288D2', borderRadius: 3, border: '1px solid #1A6FAE', boxSizing: 'border-box' })} />
      <svg style={abs(8, 862, 14, 14)} viewBox="0 0 14 14">
        <path d="M11 2.5 L3 7 L11 11.5" stroke="#fff" strokeWidth="1.4" fill="none" />
        <circle cx="11" cy="2.5" r="2.3" fill="#fff" /><circle cx="3" cy="7" r="2.3" fill="#fff" /><circle cx="11" cy="11.5" r="2.3" fill="#fff" />
      </svg>
      <Txt l={28} t={862} bold size={10.8} color="#fff">Share</Txt>
      <svg style={abs(72, 858, 17, 22)} viewBox="0 0 17 22">
        <rect x="3" y="1" width="6" height="10" rx="3" fill="none" stroke="#111" strokeWidth="1.6" />
        <rect x="3" y="9" width="6" height="10" rx="3" fill="none" stroke="#111" strokeWidth="1.6" />
        <path d="M10 18 L16 18 L13 21 Z" fill="#111" />
      </svg>
      <svg style={abs(1568, 861, 18, 19)} viewBox="0 0 18 19">
        <rect x="1" y="10" width="6" height="7" fill="#E99" stroke="#A55" /><rect x="10" y="1" width="7" height="16" fill="#4B4" stroke="#272" />
        <path d="M3 17 L10 9 C9 6 11 4 14 5 L12 7 L14 9 L16 7 C16 10 14 12 11 11 L5 18 Z" fill="#fff" stroke="#111" />
      </svg>
      <svg style={abs(1594, 861, 21, 19)} viewBox="0 0 21 19">
        <circle cx="7" cy="6" r="5.5" fill="#BBB" stroke="#555" /><line x1="11" y1="10" x2="15" y2="15" stroke="#111" strokeWidth="2.5" />
        <path d="M18 1 V9 M16 3 L18 1 L20 3 M16 7 L18 9 L20 7" stroke="#1030E0" fill="none" />
        <path d="M0 16 H8 M2 14 L0 16 L2 18 M6 14 L8 16 L6 18" stroke="#1030E0" fill="none" />
      </svg>
      <Magnifier x={1624} sign="-" />
      <Magnifier x={1652} sign="+" />
    </div>
  );
}
